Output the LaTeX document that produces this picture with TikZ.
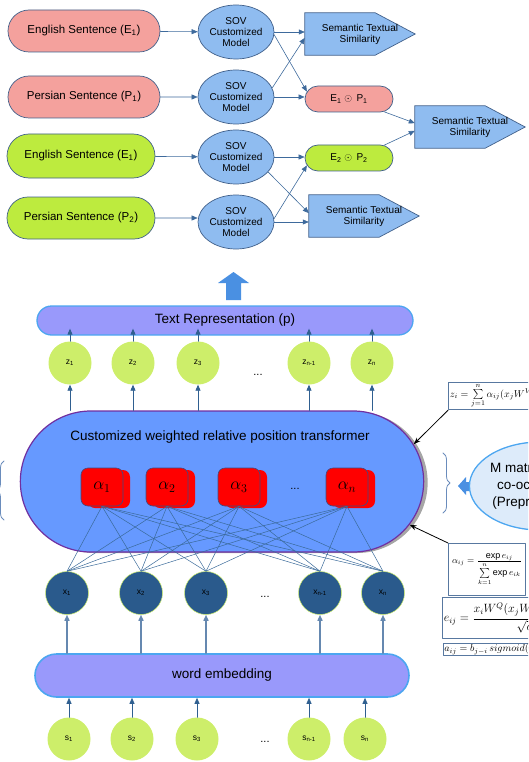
\documentclass[tikz,border=0pt]{standalone}
\usepackage{fontspec}
\setmainfont{Liberation Sans}
\usetikzlibrary{shapes.misc,shapes.geometric,shadows,decorations.pathreplacing,calc,arrows.meta}
\pgfdeclarelayer{bg}
\pgfsetlayers{bg,main}
\definecolor{pinkc}{HTML}{F4A19D}
\definecolor{greenc}{HTML}{BDEB3E}
\definecolor{sovblue}{HTML}{8FBCF0}
\definecolor{edgeblue}{HTML}{41608A}
\definecolor{flowblue}{HTML}{3E6A9C}
\definecolor{bigc}{HTML}{4A90E2}
\definecolor{barlav}{HTML}{9999FB}
\definecolor{barrim}{HTML}{4CA6F0}
\definecolor{limec}{HTML}{CDEE6A}
\definecolor{xblue}{HTML}{2A5A8C}
\definecolor{trfill}{HTML}{6699FF}
\definecolor{trrim}{HTML}{7030A0}
\definecolor{aborder}{HTML}{404A80}
\definecolor{linkblue}{HTML}{3A6A9A}
\definecolor{upblue}{HTML}{2F5F90}
\definecolor{boxblue}{HTML}{5878A0}
\definecolor{braceblue}{HTML}{6A8CBC}
\definecolor{mfill}{HTML}{DDEBFA}
\begin{document}
\begin{tikzpicture}[x=1pt,y=-1pt,line join=round,line cap=round,
  sent/.style={rounded rectangle,draw=edgeblue,line width=0.7pt,minimum width=152pt,minimum height=42pt,inner sep=0pt,font=\fontsize{11.5}{13}\selectfont},
  sov/.style={ellipse,draw=edgeblue,fill=sovblue,line width=0.7pt,minimum width=76pt,minimum height=54pt,inner sep=0pt,align=center,font=\fontsize{10}{11}\selectfont},
  sts/.style={rectangle,minimum width=110pt,minimum height=42pt,inner sep=0pt,align=center,font=\fontsize{10}{11}\selectfont},
  stsshape/.style={draw=edgeblue,fill=sovblue,line width=0.7pt},
  prod/.style={rounded rectangle,draw=edgeblue,line width=0.7pt,minimum width=88pt,minimum height=26pt,inner sep=0pt,font=\fontsize{10}{11}\selectfont},
  flow/.style={-{Triangle[length=6pt,width=5pt]},draw=flowblue,line width=0.6pt},
  band/.style={rounded rectangle,fill=barlav,draw=barrim,line width=1.3pt,inner sep=0pt,font=\fontsize{13.5}{15}\selectfont},
  lime/.style={circle,fill=limec,minimum size=43pt,inner sep=0pt,font=\fontsize{8.5}{9}\selectfont},
  xnode/.style={circle,fill=xblue,draw=limec,line width=0.5pt,minimum size=43pt,inner sep=0pt,font=\fontsize{8.5}{9}\selectfont},
  abox/.style={rectangle,rounded corners=7pt,fill=red,draw=aborder,line width=0.6pt,minimum width=42pt,minimum height=38pt,inner sep=0pt,general shadow={fill=red,shadow xshift=7pt,shadow yshift=-2pt},font=\fontsize{17}{17}\selectfont},
  uparr/.style={-{Triangle[length=6pt,width=5pt]},draw=upblue,line width=0.8pt},
  link/.style={draw=linkblue,line width=0.5pt},
  fbox/.style={rectangle,draw=boxblue,line width=0.8pt,inner sep=1.5pt,fill=white,font=\fontsize{10.5}{12}\selectfont},
  note/.style={-{Stealth[length=7pt,width=5pt]},line width=0.8pt},
  curly/.style={decorate,decoration={brace,amplitude=7pt},draw=braceblue,line width=0.8pt},
  ellip/.style={font=\fontsize{11}{11}\selectfont}]
\useasboundingbox (0,0) rectangle (528,762);
\clip (0,0) rectangle (528,762);
\node[sent,fill=pinkc] (eng1) at (84,31) {English Sentence (E\textsubscript{1})};
\node[sent,fill=pinkc] (per1) at (84,97) {Persian Sentence (P\textsubscript{1})};
\node[sent,fill=greenc,minimum width=148pt,minimum height=44pt] (eng2) at (81,156) {English Sentence (E\textsubscript{1})};
\node[sent,fill=greenc,minimum width=148pt] (per2) at (81,218) {Persian Sentence (P\textsubscript{2})};
\foreach \n/\y in {1/32,2/97,3/157,4/222}
  \node[sov] (sov\n) at (236,\y) {SOV\\Customized\\Model};
\node[sts] (sts1) at (360,34) {Semantic Textual\\Similarity};
\node[sts] (sts2) at (470,127) {Semantic Textual\\Similarity};
\node[sts] (sts3) at (364,216) {Semantic Textual\\Similarity};
\begin{pgfonlayer}{bg}
\foreach \n in {1,2,3}
  \draw[stsshape] (sts\n.north west) -- ([xshift=-40pt]sts\n.north east) -- (sts\n.east) -- ([xshift=-40pt]sts\n.south east) -- (sts\n.south west) -- cycle;
\end{pgfonlayer}
\node[prod,fill=pinkc] (prod1) at (349,99) {E\textsubscript{1} $\odot$\, P\textsubscript{1}};
\node[prod,fill=greenc] (prod2) at (349,158) {E\textsubscript{2} $\odot$\, P\textsubscript{2}};
\draw[flow] (eng1) -- (sov1);
\draw[flow] (per1) -- (sov2);
\draw[flow] (eng2) -- (sov3);
\draw[flow] (per2) -- (per2 -| sov4.west);
\draw[flow] (sov1) -- (sov1 -| sts1.west);
\draw[flow] (sov1.-4) -- (prod1.170);
\draw[flow] (sov2.14) -- (sts1.184);
\draw[flow] (sov2) -- (sov2 -| prod1.west);
\draw[flow] (sov3) -- (sov3 -| prod2.west);
\draw[flow] (sov3.-25) -- (sts3.177);
\draw[flow] (sov4.5) -- (prod2.190);
\draw[flow] (sov4) -- (sov4 -| sts3.west);
\draw[flow] (prod1.-20) -- (sts2.176);
\draw[flow] (prod2.20) -- (sts2.184);
\fill[bigc] (226,300) -- (226,283) -- (218,283) -- (233.5,272) -- (249,283) -- (241,283) -- (241,300) -- cycle;
\node[band,minimum width=376pt,minimum height=29pt] (trep) at (225,320.5) {Text Representation (p)};
\foreach \n/\x/\s in {1/70/1,2/133/2,3/198/3,m/309/n-1,n/372/n}
  \node[lime] (z\n) at (\x,363) {z\textsubscript{\s}};
\node[ellip] (zdots) at (258,375) {...};
\node[rounded rectangle,fill=trfill,draw=trrim,line width=1.2pt,minimum width=410pt,minimum height=141pt,drop shadow={shadow xshift=4pt,shadow yshift=-1pt,fill=black!35,opacity=1}] (trans) at (222,481.5) {};
\node[font=\fontsize{13.5}{15}\selectfont] (title) at (220,437) {Customized weighted relative position transformer};
\foreach \n in {1,2,3,m,n} {
  \draw[uparr] (z\n |- trans.north) -- (z\n);
  \draw[uparr] (z\n) -- ($(z\n |- trep.south)+(0,-7)$);
}
\foreach \n/\x in {1/102,2/167,3/239,n/347}
  \node[abox] (a\n) at (\x,487) {$\alpha_{\n}$};
\node[ellip] (adots) at (295,489) {...};
\foreach \n/\x/\s in {1/67/1,2/141/2,3/206/3,m/320/n-1,n/383/n}
  \node[xnode] (x\n) at (\x,593) {x\textsubscript{\s}};
\node[ellip] (xdots) at (265,597) {...};
\foreach \a in {1,2,3,n}
  \foreach \b in {1,2,3,m,n}
    \draw[link] (a\a.south) -- (x\b.north);
\node[band,line width=1.6pt,minimum width=374pt,minimum height=43pt] (emb) at (222,675.5) {word embedding};
\foreach \n/\x/\s in {1/69/1,2/132/2,3/197/3,m/309/n-1,n/365/n}
  \node[lime] (s\n) at (\x,739) {s\textsubscript{\s}};
\node[ellip] (sdots) at (265,742) {...};
\foreach \n in {1,2,3,m,n} {
  \draw[uparr,draw=flowblue!80,line width=1.4pt] (x\n |- emb.north) -- (x\n);
  \draw[uparr] (s\n) -- (s\n |- emb.south);
}
\node[fbox,anchor=west,minimum height=26pt,font=\fontsize{10}{11}\selectfont] (fz) at (448,396) {$z_i=\sum\limits_{j=1}^{n}\alpha_{ij}(x_jW^V+a_{ij}^V)$};
\draw[note] (fz.south west) -- (trans.11);
\node[fbox,anchor=north west,minimum width=77pt,minimum height=52pt,font=\fontsize{9}{10}\selectfont] (fa) at (448,543) {$\displaystyle\alpha_{ij}=\frac{\exp e_{ij}}{\sum\limits_{k=1}^{n}\exp e_{ik}}$};
\draw[note] (fa.north west) -- (trans.-13);
\node[fbox,anchor=north west,minimum height=41pt,font=\fontsize{11.5}{13}\selectfont] (fe) at (442,597) {$\displaystyle e_{ij}=\frac{x_iW^Q(x_jW^K+a_{ij}^K)^T}{\sqrt{d_z}}$};
\node[fbox,anchor=north west,minimum height=12pt,inner sep=1pt,font=\fontsize{10}{11}\selectfont] (fb) at (443,643) {$a_{ij}=b_{j-i}\,sigmoid(w_{j-i})$};
\draw[curly] (443,453) -- (443,513);
\draw[curly] (4,520) -- (4,461);
\fill[bigc] (458,486) -- (466,477) -- (466,482) -- (473,482) -- (473,491) -- (466,491) -- (466,495) -- cycle;
\node[ellipse,fill=mfill,draw=barrim,line width=1.3pt,minimum width=114pt,minimum height=88pt,inner sep=0pt,align=center,font=\fontsize{13.5}{17}\selectfont] (mmat) at (540,486) {M matrix of word\\co-occurrence\\(Preprocessing)};
\end{tikzpicture}
\end{document}
